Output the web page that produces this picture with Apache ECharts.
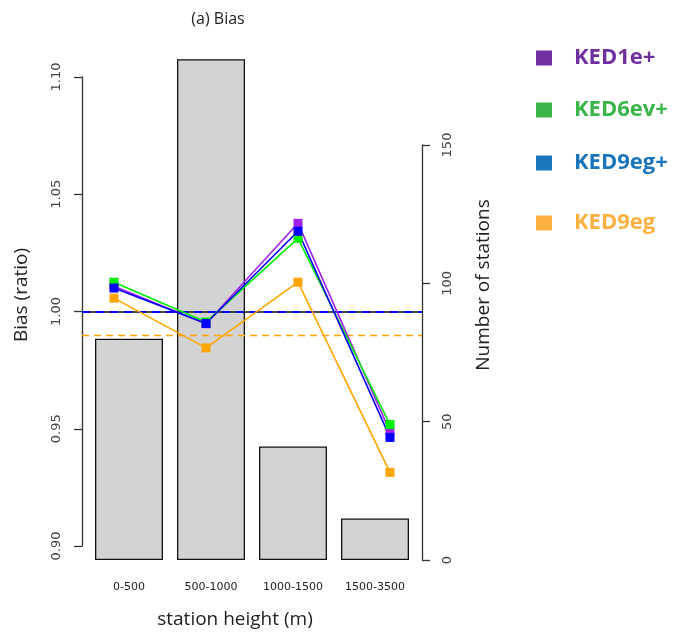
<!DOCTYPE html>
<html>
<head>
    <meta charset="utf-8">
    <title>Bias</title>
    <script src="https://cdn.jsdelivr.net/npm/echarts@6.0.0/dist/echarts.min.js"></script>
    <style>
        body { margin: 0; background: #fff; }
        #chart { width: 681px; height: 639px; }
    </style>
</head>
<body>
    <div id="chart"></div>
    <script>
        // station height classes
        var categories = ['0-500', '500-1000', '1000-1500', '1500-3500'];
        // number of stations per class (right axis)
        var stationCounts = [80, 181, 41, 15];
        // bias ratio per model (left axis)
        var ked1e = [1.0108, 0.9948, 1.0376, 0.9488];
        var ked6ev = [1.0125, 0.9955, 1.0312, 0.9518];
        var ked9egPlus = [1.0100, 0.9949, 1.0342, 0.9463];
        var ked9eg = [1.0057, 0.9845, 1.0125, 0.9314];
        // reference lines
        var refOne = 1.00;
        var refBlue = 0.9995;
        var refOrange = 0.9892;
        var leftTicks = [0.90, 0.95, 1.00, 1.05, 1.10];
        var rightTicks = [0, 50, 100, 150];

        var chart = echarts.init(document.getElementById('chart'));

        function pts(arr) {
            return arr.map(function (v, i) { return [i + 1, v]; });
        }

        function lineSeries(name, data, color) {
            return {
                name: name,
                type: 'line',
                xAxisIndex: 0,
                yAxisIndex: 0,
                data: pts(data),
                symbol: 'rect',
                symbolSize: 9,
                lineStyle: { color: color, width: 1.6 },
                itemStyle: { color: color },
                z: 5
            };
        }

        function legendItem(name, color, top) {
            return {
                left: 536,
                top: top,
                padding: 0,
                orient: 'vertical',
                icon: 'rect',
                itemWidth: 16,
                itemHeight: 15,
                data: [{
                    name: name,
                    itemStyle: { color: color },
                    textStyle: { color: color }
                }],
                textStyle: {
                    fontFamily: 'Open Sans',
                    fontWeight: 'bold',
                    fontSize: 22,
                    padding: [0, 0, 0, 17]
                }
            };
        }

        var option = {
            animation: false,
            title: {
                text: '(a) Bias',
                left: 213,
                top: 6,
                textAlign: 'center',
                textStyle: { fontFamily: 'Open Sans', fontSize: 16, fontWeight: 'normal', color: '#222' }
            },
            legend: [
                legendItem('KED1e+', '#7030a0', 47),
                legendItem('KED6ev+', '#39b54a', 99),
                legendItem('KED9eg+', '#1b75bb', 152),
                legendItem('KED9eg', '#fbb040', 212)
            ],
            grid: [
                { left: 82, right: 259, top: 77, bottom: 93 },
                { left: 88, right: 265, top: 145, bottom: 79 }
            ],
            xAxis: [
                { type: 'value', gridIndex: 0, min: 0.652, max: 4.348, show: false },
                {
                    type: 'category', gridIndex: 1, data: categories,
                    axisLine: { show: false }, axisTick: { show: false },
                    axisLabel: { margin: 22, fontSize: 11, color: '#222', fontFamily: 'DejaVu Sans' }
                }
            ],
            yAxis: [
                {
                    type: 'value', gridIndex: 0, position: 'left',
                    min: leftTicks[0], max: leftTicks[leftTicks.length - 1], interval: 0.05,
                    splitLine: { show: false },
                    axisLine: { show: true, lineStyle: { color: '#333', width: 1.3 } },
                    axisTick: { show: true, length: 8, lineStyle: { color: '#333', width: 1.3 } },
                    axisLabel: {
                        rotate: 90, margin: 19, fontSize: 13, color: '#444',
                        fontFamily: 'DejaVu Sans',
                        formatter: function (v) { return v.toFixed(2); }
                    }
                },
                {
                    type: 'value', gridIndex: 1, position: 'right', offset: 6,
                    min: rightTicks[0], max: rightTicks[rightTicks.length - 1], interval: 50,
                    splitLine: { show: false },
                    axisLine: { show: true, lineStyle: { color: '#333', width: 1.3 } },
                    axisTick: { show: true, length: 8, lineStyle: { color: '#333', width: 1.3 } },
                    axisLabel: { rotate: 90, margin: 19, fontSize: 13, color: '#444', fontFamily: 'DejaVu Sans' }
                }
            ],
            graphic: [
                {
                    type: 'text', x: 22, y: 295, rotation: Math.PI / 2,
                    style: { text: 'Bias (ratio)', fontFamily: 'Open Sans', fontSize: 19, fill: '#222', align: 'center', verticalAlign: 'middle' }
                },
                {
                    type: 'text', x: 484, y: 285, rotation: Math.PI / 2,
                    style: { text: 'Number of stations', fontFamily: 'Open Sans', fontSize: 19, fill: '#222', align: 'center', verticalAlign: 'middle' }
                },
                {
                    type: 'text', x: 235, y: 620,
                    style: { text: 'station height (m)', fontFamily: 'Open Sans', fontSize: 19, fill: '#222', align: 'center', verticalAlign: 'middle' }
                }
            ],
            series: [
                {
                    name: 'stations',
                    type: 'bar',
                    xAxisIndex: 1,
                    yAxisIndex: 1,
                    data: stationCounts,
                    barWidth: 68,
                    clip: false,
                    itemStyle: { color: '#d3d3d3', borderColor: '#111', borderWidth: 1.3 },
                    z: 1
                },
                {
                    name: 'ref',
                    type: 'line',
                    xAxisIndex: 0,
                    yAxisIndex: 0,
                    data: [],
                    markLine: {
                        silent: true,
                        symbol: 'none',
                        label: { show: false },
                        data: [
                            { yAxis: refOrange, lineStyle: { color: '#ffa500', type: [7, 5], width: 1.3 } },
                            { yAxis: refOne, lineStyle: { color: '#111', type: 'solid', width: 1.5 } },
                            { yAxis: refBlue, lineStyle: { color: '#0000ff', type: [8, 6], width: 2.2 } }
                        ]
                    },
                    z: 3
                },
                lineSeries('KED1e+', ked1e, '#a020f0'),
                lineSeries('KED6ev+', ked6ev, '#00ee00'),
                lineSeries('KED9eg+', ked9egPlus, '#0000ff'),
                lineSeries('KED9eg', ked9eg, '#ffa500')
            ]
        };

        chart.setOption(option);
    </script>
</body>
</html>
